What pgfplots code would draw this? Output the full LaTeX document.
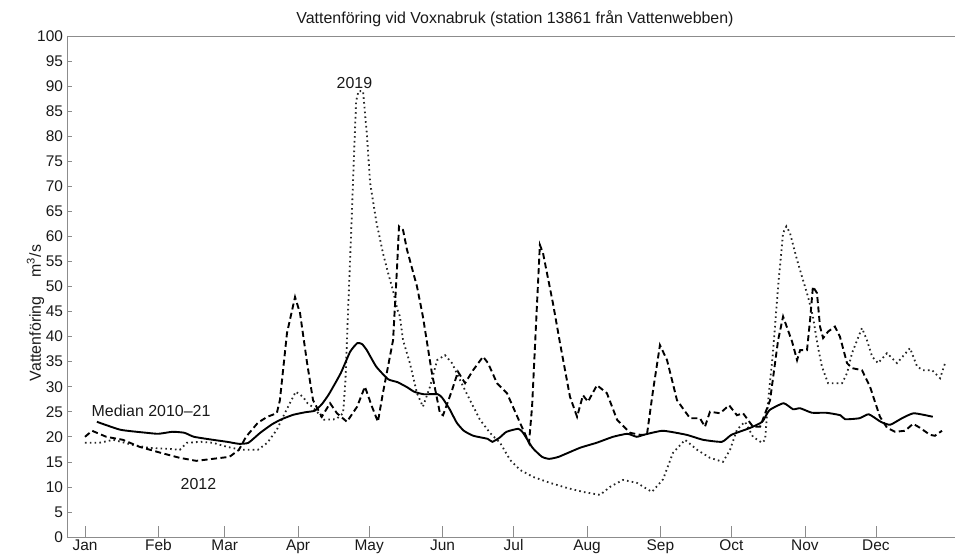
\documentclass[border=0pt]{standalone}
\usepackage{fontspec}
\setmainfont{Liberation Sans}
\usepackage{pgfplots}
\pgfplotsset{compat=1.18}
\usetikzlibrary{calc}
\definecolor{axgray}{rgb}{0.55,0.55,0.55}
\begin{document}
\fontsize{16}{19}\selectfont
\begin{tikzpicture}
\useasboundingbox (0,0) rectangle (955bp,557bp);
\begin{axis}[
  at={(67bp,20bp)}, anchor=south west,
  scale only axis, width=888bp, height=501bp,
  xmin=-6.6, xmax=368.4, ymin=0, ymax=100,
  axis line style={draw=none},
  xtick={1,32,60,91,121,152,182,213,244,274,305,335},
  xticklabels={Jan,Feb,Mar,Apr,May,Jun,Jul,Aug,Sep,Oct,Nov,Dec},
  ytick={0,5,...,100},
  xtick pos=bottom, ytick pos=left,
  tick align=inside,
  major tick length=5bp,
  xtick style={axgray, line width=0.6bp, /pgfplots/major tick length=11bp},
  ytick style={axgray, line width=0.6bp},
  tick label style={font=\fontsize{15.5}{18}\selectfont, text=black!90},
  /pgf/number format/assume math mode=true,
  xticklabel style={yshift=3bp},
  yticklabel style={xshift=1.5bp},
  clip=false,
]
\draw[axgray, line width=0.8bp] (rel axis cs:0,1) -- (rel axis cs:0,0) -- (rel axis cs:1,0);
\draw[axgray, line width=0.8bp] (rel axis cs:0,1) -- (rel axis cs:1,1);

% 2019 (dotted)
\addplot[black!85, line width=1.8bp, dash pattern=on 1.6bp off 3.2bp] coordinates {
(1,18.8) (7,18.8) (13,19.4) (21,18.4) (28,17.8) (36,17.6) (41,17.4) (44,18.8) (50,19.0) (55,18.8)
(61,18.0) (67,17.4) (74,17.4) (78,18.8) (82,21.4) (86,25.3) (90,29.0) (93,28.0) (95,26.7) (97,26.0)
(102,23.4) (107,23.5) (110,24.7) (111,31.3) (112,44) (113.5,62) (114.5,75) (115.5,87) (116.5,89)
(118.4,89) (120,80.6) (121.4,70.7) (124,63) (126.8,56.7) (129,52.7) (131,49.3) (133,45.3) (134,44)
(135.3,39.3) (138.2,34.7) (141.2,28.7) (143.7,26) (146.7,30) (149.7,35.3) (153,36.3) (156,34.7)
(159.4,31.3) (163.6,27.3) (167.8,23.4) (172,20.8) (176.3,18.8) (180.5,15.4) (184.7,13.4) (190.2,12)
(197.4,10.8) (204.5,9.8) (211.3,9.0) (218.5,8.4) (222.7,10) (228.2,11.4) (234.1,10.8) (240.4,9.0)
(245.1,11.5) (249.3,16.8) (254.4,19.4) (259.5,17.4) (264.9,15.8) (270.4,15.0) (273.4,17.4) (276.3,21.4)
(279.7,23.0) (283.1,20.0) (286.9,18.8) (288.2,19.4) (289.4,26.7) (291.5,36.7) (293.7,50) (295.8,60.7)
(297.2,62) (298.7,60.7) (301.7,55.3) (304.2,51.3) (306.3,48) (308.4,44) (310.5,38) (312.2,34)
(314.8,30.7) (320.7,30.7) (322.8,32.7) (324.9,36.7) (329.1,41.7) (331.2,39.3) (333.4,36) (335.9,34.7)
(339.7,36.7) (343.9,34.7) (349.4,37.7) (352.4,34) (354.9,33.3) (358.7,33.3) (362.1,31.7) (364.2,34.7)
};

% 2012 (dashed)
\addplot[black, line width=1.9bp, dash pattern=on 6bp off 3.5bp] coordinates {
(1,20.0) (4,21.2) (10,20.0) (17,19.4) (24,18.0) (33,16.8) (41,15.8) (48,15.2) (55,15.6) (62,16.0)
(66,17.4) (69,20.0) (74,22.8) (78,24.0) (82,24.7) (83.3,27.3) (86.3,40.7) (89.7,47.9) (91.8,44.7)
(94.8,34.7) (97.3,27.3) (101,24) (104.5,26.7) (107.4,24.7) (111.6,23) (115.9,26) (119.2,30) (122.2,26)
(124.7,23) (126.8,28.7) (131.1,39.3) (132.8,54) (133.6,62) (135.3,61.3) (137,57.3) (141.2,50)
(143.7,44) (147.5,32.7) (150.9,24.7) (152.2,24.3) (156,29.3) (158.5,33) (161.5,30.7) (164.9,33.3)
(169.1,36) (171.2,34.7) (175,30.7) (179.2,28.7) (184.7,22.8) (188.5,18.8) (189.8,26) (191.9,46.7)
(193.1,58.3) (194.4,56.7) (198.6,46.7) (201.6,38.7) (205.8,28) (208.8,24) (211.3,28.3) (213.4,27)
(217.2,30.3) (221.4,28.7) (225.7,23.4) (231.2,20.8) (235.4,20.4) (238.3,20.4) (240.9,29.3) (243.8,38.3)
(246.8,35.3) (251,27.3) (256.5,23.7) (260.7,23.7) (262.8,22) (264.9,25) (269.2,24.7) (273,26.3)
(276.3,24.3) (278.9,24.7) (283.1,22) (286.1,22) (290.3,27.3) (293.7,39.3) (295.8,44) (299.6,39)
(301.7,35.3) (303,37.3) (305.9,37.3) (307.2,43.3) (308.4,50) (310.1,48.7) (311.4,42) (312.7,39.7)
(314.8,41) (317.7,42) (319.8,40) (322.8,34.7) (324.9,33.7) (329.1,33.3) (332.5,30) (336.7,24)
(339.7,21.8) (343.1,21) (347.3,21.2) (350.7,22.6) (353.6,21.8) (357.8,20.4) (359.9,20.2) (362.9,21.2)
};

% Median 2010-21 (solid)
\addplot[black, line width=1.9bp, smooth, tension=0.3] coordinates {
(6,23.0) (16,21.4) (27,20.8) (32,20.6) (38,21.0) (43,20.8) (47,20.0) (55,19.4) (61,19.0) (66,18.6)
(70,18.8) (75,20.8) (80,22.5) (84,23.5) (89,24.4) (94,24.9) (98,25.2) (101,26.5) (104,28.5) (109,32.7)
(113,37.0) (116,38.7) (118,38.5) (120,37.3) (124,34.0) (129,31.5) (133,30.9) (137,29.9) (140,29.0)
(144,28.5) (150,28.5) (152,27.7) (155,25.5) (158,22.8) (161,21.2) (165,20.2) (171,19.6) (173,19.0)
(176,19.8) (179,21.0) (184,21.6) (186,20.8) (190,17.8) (194,16.0) (197,15.6) (201,16.0) (210,17.8)
(217,18.8) (224,20.0) (230,20.6) (234,20.0) (237,20.4) (245,21.2) (255,20.4) (262,19.4) (270,19.0)
(274,20.4) (282,21.8) (287,23.0) (290,25.3) (296,26.7) (300,25.5) (303,25.7) (308,24.8) (314,24.8)
(320,24.3) (322,23.5) (328,23.7) (332,24.5) (337,23.0) (341,22.4) (346,23.7) (351,24.7) (359,24.0)
};

\node[text=black!90] at (axis cs:114.8,90.6) {2019};
\node[text=black!90] at (axis cs:28.9,25.1) {Median 2010--21};
\node[text=black!90] at (axis cs:48.9,10.6) {2012};
\node[text=black!90] at ($(rel axis cs:0.5,1)+(4bp,17bp)$) {Vattenföring vid Voxnabruk (station 13861 från Vattenwebben)};
\node[rotate=90, text=black!90] at ($(rel axis cs:0,0.447)+(-47bp,0)$) {Vattenföring\hspace{1.2em}m\textsuperscript{3}/s};
\end{axis}
\end{tikzpicture}
\end{document}
